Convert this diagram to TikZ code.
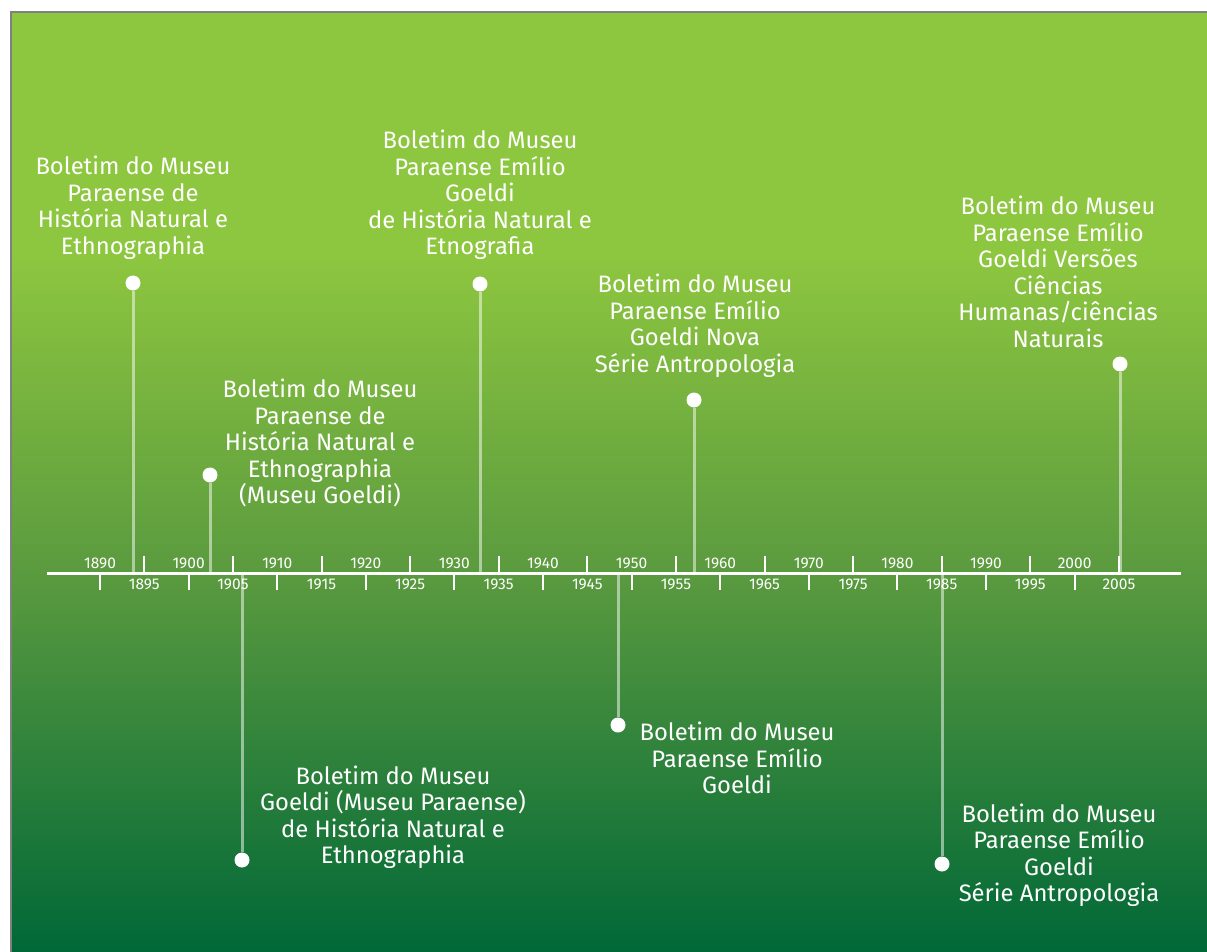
\documentclass[tikz,border=0pt]{standalone}
\usepackage{fontspec}
\setmainfont{Fira Sans}
\definecolor{lt}{HTML}{8DC63F}
\definecolor{md}{HTML}{5A9A3F}
\definecolor{dk}{HTML}{006837}
\definecolor{frame}{HTML}{808080}
\pgfdeclareverticalshading{bgshade}{100bp}{color(0bp)=(dk); color(25bp)=(dk); color(45bp)=(md); color(62bp)=(lt); color(100bp)=(lt)}
\tikzset{
  evtext/.style={text=white, align=center, font=\fontsize{23.8}{26.5}\selectfont, inner sep=0pt},
  yrlabel/.style={text=white, font=\fontsize{15.5}{17}\selectfont, inner sep=0pt},
  dot/.style={circle, fill=white, minimum size=15pt, inner sep=0pt},
  stem/.style={draw=white, draw opacity=0.5, line width=3pt},
  tick/.style={draw=white, line width=2pt},
  axisline/.style={draw=white, line width=3pt}
}
\begin{document}
\begin{tikzpicture}[x=1pt,y=-1pt]
\useasboundingbox (0,0) rectangle (1207,952);
\shade[shading=bgshade] (10,13) rectangle (1207,952);
\draw[frame, line width=2pt] (10.5,952) -- (10.5,12.5) -- (1207,12.5);

% axis
\coordinate (axL) at (47,573);
\coordinate (axR) at (1181,573);
\draw[axisline] (axL) -- (axR);
\foreach \yr in {1890,1900,...,2000}{
  \pgfmathsetmacro{\xx}{100+(\yr-1890)*8.86}
  \draw[tick] (\xx,573) -- (\xx,590);
  \node[yrlabel] (y\yr) at (\xx,563) {\yr};
}
\foreach \yr in {1895,1905,...,2005}{
  \pgfmathsetmacro{\xx}{100+(\yr-1890)*8.86}
  \draw[tick] (\xx,556) -- (\xx,573);
  \node[yrlabel] (y\yr) at (\xx,584) {\yr};
}

% events
\coordinate (a1) at (133,573);  \node[dot] (c1) at (133,283) {};
\coordinate (a2) at (210,573);  \node[dot] (c2) at (210,475) {};
\coordinate (a3) at (242,573);  \node[dot] (c3) at (242,860) {};
\coordinate (a4) at (480,573);  \node[dot] (c4) at (480,284) {};
\coordinate (a5) at (618,573);  \node[dot] (c5) at (618,725) {};
\coordinate (a6) at (694,573);  \node[dot] (c6) at (694,400) {};
\coordinate (a7) at (942,573);  \node[dot] (c7) at (942,864) {};
\coordinate (a8) at (1120,573); \node[dot] (c8) at (1120,364) {};
\foreach \i in {1,...,8}{ \draw[stem] (a\i) -- (c\i); }

\node[evtext] (t1) at (133,208) {Boletim do Museu\\Paraense de\\História Natural e\\Ethnographia};
\node[evtext] (t2) at (320,443) {Boletim do Museu\\Paraense de\\História Natural e\\Ethnographia\\(Museu Goeldi)};
\node[evtext] (t3) at (393,817) {Boletim do Museu\\Goeldi (Museu Paraense)\\de História Natural e\\Ethnographia};
\node[evtext] (t4) at (480,195) {Boletim do Museu\\Paraense Emílio\\Goeldi\\de História Natural e\\Etnografia};
\node[evtext] (t5) at (737,758) {Boletim do Museu\\Paraense Emílio\\Goeldi};
\node[evtext] (t6) at (695,326) {Boletim do Museu\\Paraense Emílio\\Goeldi Nova\\Série Antropologia};
\node[evtext] (t7) at (1059,855) {Boletim do Museu\\Paraense Emílio\\Goeldi\\Série Antropologia};
\node[evtext] (t8) at (1058,272) {Boletim do Museu\\Paraense Emílio\\Goeldi Versões\\Ciências\\Humanas/ciências\\Naturais};
\end{tikzpicture}
\end{document}
